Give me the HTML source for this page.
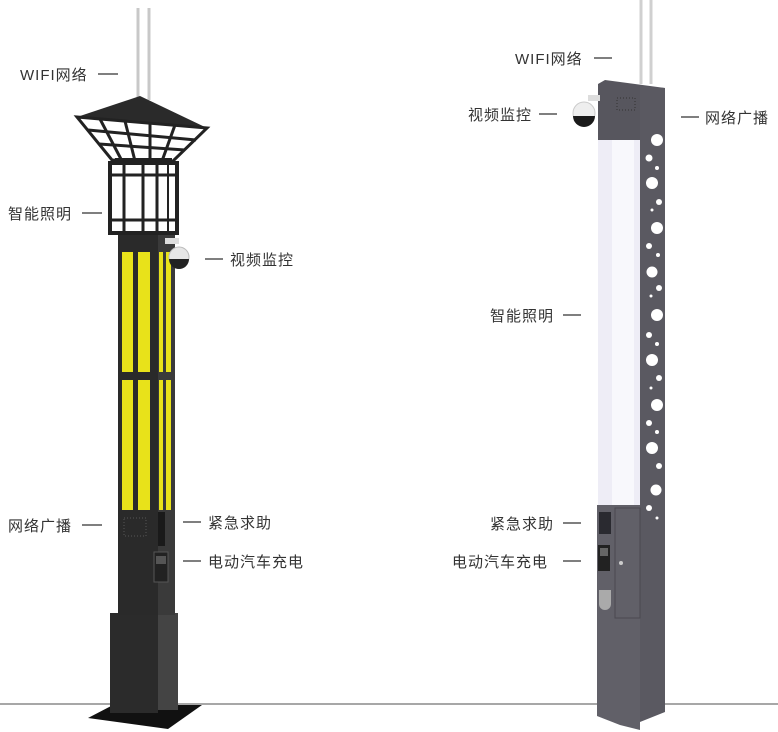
<!DOCTYPE html>
<html><head><meta charset="utf-8"><style>
html,body{margin:0;padding:0;background:#fff;}
svg{display:block}
text{font-family:"Liberation Sans","Noto Sans CJK SC",sans-serif;font-size:15px;fill:#333;letter-spacing:1px}
</style></head><body>
<svg width="778" height="732" viewBox="0 0 778 732">
<!-- ground -->
<line x1="0" y1="704" x2="778" y2="704" stroke="#8a8a8a" stroke-width="1.5"/>

<!-- LEFT POLE -->
<line x1="138" y1="8" x2="138" y2="100" stroke="#c8c8c8" stroke-width="3"/>
<line x1="149" y1="8" x2="149" y2="100" stroke="#c8c8c8" stroke-width="3"/>
<!-- base plate -->
<polygon points="88,718 113,705 202,705 168,729" fill="#111"/>
<!-- base block -->
<rect x="110" y="613" width="48" height="100" fill="#2b2b2b"/>
<rect x="158" y="613" width="20" height="97" fill="#444"/>
<!-- shaft -->
<rect x="118" y="232" width="40" height="383" fill="#2a2a2a"/>
<rect x="158" y="232" width="17" height="383" fill="#3a3a3a"/>
<!-- yellow strips -->
<g fill="#e8e21a">
<rect x="122" y="252" width="11" height="120"/><rect x="138" y="252" width="12" height="120"/>
<rect x="159" y="252" width="4" height="120"/><rect x="166" y="252" width="5" height="120"/>
<rect x="122" y="380" width="11" height="130"/><rect x="138" y="380" width="12" height="130"/>
<rect x="159" y="380" width="4" height="130"/><rect x="166" y="380" width="5" height="130"/>
</g>
<!-- speaker dots & devices -->
<rect x="124" y="518" width="22" height="18" fill="none" stroke="#555" stroke-dasharray="1 2"/>
<rect x="158" y="512" width="7" height="34" fill="#1a1a1a"/>
<rect x="154" y="552" width="14" height="30" fill="#222" stroke="#555"/>
<rect x="156" y="556" width="10" height="8" fill="#555"/>
<!-- lantern box -->
<rect x="110" y="163" width="67" height="70" fill="#fff" stroke="#222" stroke-width="4"/>
<line x1="110" y1="175" x2="177" y2="175" stroke="#222" stroke-width="3"/>
<line x1="110" y1="220" x2="177" y2="220" stroke="#222" stroke-width="3"/>
<line x1="124" y1="163" x2="124" y2="233" stroke="#222" stroke-width="3"/>
<line x1="143" y1="163" x2="143" y2="233" stroke="#222" stroke-width="3"/>
<line x1="157" y1="163" x2="157" y2="233" stroke="#222" stroke-width="3"/>
<line x1="168" y1="163" x2="168" y2="233" stroke="#222" stroke-width="2"/>
<!-- roof -->
<polygon points="140,96 77,117 207,128" fill="#2a2a2a"/>
<polygon points="77,117 207,128 172,162 112,160" fill="#fff" stroke="#222" stroke-width="3"/>
<g stroke="#222" stroke-width="3">
<line x1="88" y1="130" x2="196" y2="140"/><line x1="99" y1="144" x2="185" y2="150"/>
<line x1="100" y1="119" x2="122" y2="161"/><line x1="125" y1="121" x2="135" y2="161"/>
<line x1="150" y1="123" x2="150" y2="161"/><line x1="175" y1="125" x2="162" y2="161"/>
</g>
<rect x="115" y="158" width="57" height="6" fill="#222"/>
<!-- camera -->
<rect x="165" y="238" width="14" height="6" fill="#ddd"/>
<circle cx="179" cy="257" r="10" fill="#e6e6e6" stroke="#bbb"/>
<path d="M169 259 A10 10 0 0 0 189 259 Z" fill="#222"/>

<!-- RIGHT POLE -->
<line x1="641" y1="0" x2="641" y2="84" stroke="#d0d0d0" stroke-width="3"/>
<line x1="651" y1="0" x2="651" y2="84" stroke="#d0d0d0" stroke-width="3"/>
<!-- light tube -->
<rect x="598" y="140" width="42" height="366" fill="#eeedf6"/>
<rect x="612" y="140" width="22" height="366" fill="#f8f8fc"/>
<!-- head -->
<polygon points="598,84 605,80 665,88 665,140 598,140" fill="#57565e"/>
<rect x="617" y="98" width="18" height="12" fill="none" stroke="#333" stroke-dasharray="1 2"/>
<!-- perforated panel -->
<polygon points="640,86 665,88 665,712 640,722" fill="#5a5961"/>
<g fill="#fff">
<circle cx="657" cy="140" r="6"/><circle cx="649" cy="158" r="3.5"/><circle cx="657" cy="168" r="2"/>
<circle cx="652" cy="183" r="6"/><circle cx="659" cy="202" r="3"/><circle cx="652" cy="210" r="1.5"/>
<circle cx="657" cy="228" r="6"/><circle cx="649" cy="246" r="3"/><circle cx="658" cy="255" r="2"/>
<circle cx="652" cy="272" r="5.5"/><circle cx="659" cy="288" r="3"/><circle cx="651" cy="296" r="1.5"/>
<circle cx="657" cy="315" r="6"/><circle cx="649" cy="335" r="3"/><circle cx="657" cy="344" r="2"/>
<circle cx="652" cy="360" r="6"/><circle cx="659" cy="378" r="3"/><circle cx="651" cy="388" r="1.5"/>
<circle cx="657" cy="405" r="6"/><circle cx="649" cy="423" r="3"/><circle cx="657" cy="432" r="2"/>
<circle cx="652" cy="448" r="6"/><circle cx="659" cy="466" r="3"/><circle cx="656" cy="490" r="5.5"/>
<circle cx="649" cy="508" r="3"/><circle cx="657" cy="518" r="1.5"/>
</g>
<!-- cabinet -->
<polygon points="597,505 640,505 640,730 620,725 597,716" fill="#616068"/>
<rect x="615" y="508" width="25" height="110" fill="none" stroke="#4a4950"/>
<circle cx="621" cy="563" r="2" fill="#ccc"/>
<rect x="599" y="512" width="12" height="22" fill="#2a2a30"/>
<rect x="598" y="545" width="12" height="26" fill="#222"/>
<rect x="600" y="548" width="8" height="8" fill="#666"/>
<path d="M599 590 h12 v14 a6 6 0 0 1 -12 0 z" fill="#aaa"/>
<!-- camera -->
<rect x="588" y="95" width="12" height="6" fill="#ddd"/>
<circle cx="584" cy="113" r="11" fill="#eee" stroke="#ccc"/>
<path d="M573 116 A11 11 0 0 0 595 116 Z" fill="#1a1a1a"/>

<!-- LABELS -->
<g stroke="#333" stroke-width="1.3">
<line x1="98" y1="74" x2="118" y2="74"/><line x1="82" y1="213" x2="102" y2="213"/>
<line x1="205" y1="259" x2="223" y2="259"/><line x1="82" y1="525" x2="102" y2="525"/>
<line x1="183" y1="522" x2="201" y2="522"/><line x1="183" y1="561" x2="201" y2="561"/>
<line x1="594" y1="58" x2="612" y2="58"/><line x1="539" y1="114" x2="557" y2="114"/>
<line x1="681" y1="117" x2="699" y2="117"/><line x1="563" y1="315" x2="581" y2="315"/>
<line x1="563" y1="523" x2="581" y2="523"/><line x1="563" y1="561" x2="581" y2="561"/>
</g>
<text x="20" y="80">WIFI网络</text>
<text x="8" y="219">智能照明</text>
<text x="230" y="265">视频监控</text>
<text x="8" y="531">网络广播</text>
<text x="208" y="528">紧急求助</text>
<text x="208" y="567">电动汽车充电</text>
<text x="515" y="64">WIFI网络</text>
<text x="468" y="120">视频监控</text>
<text x="705" y="123">网络广播</text>
<text x="490" y="321">智能照明</text>
<text x="490" y="529">紧急求助</text>
<text x="452" y="567">电动汽车充电</text>
</svg>
</body></html>
